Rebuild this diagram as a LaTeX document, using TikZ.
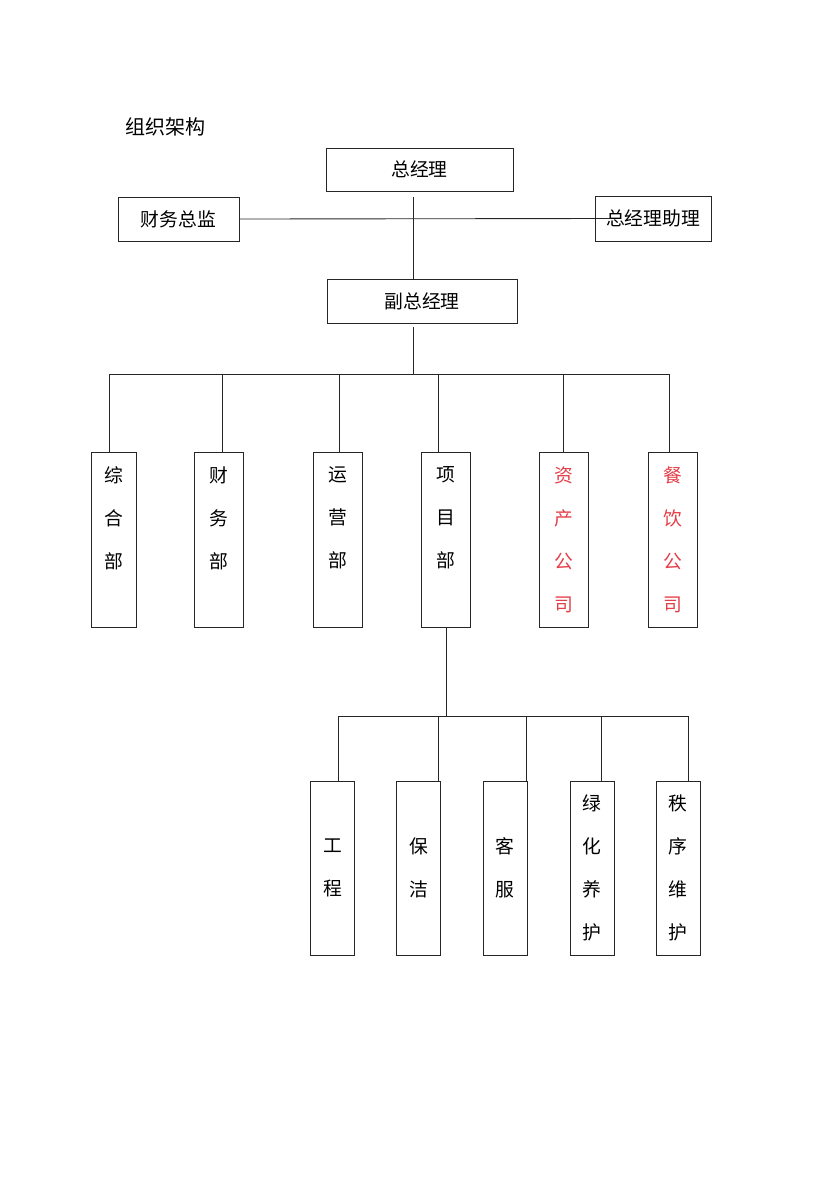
\documentclass[tikz,border=0pt]{standalone}
\usepackage{fontspec}
\usepackage{xcolor}
\usetikzlibrary{calc}
\newfontfamily\cn{Noto Sans CJK SC}
\definecolor{cnred}{RGB}{228,62,72}

\begin{document}
\begin{tikzpicture}[
  x=0.02cm,y=-0.02cm,
  box/.style={draw=black!85,line width=0.5pt,inner sep=0pt,font=\cn\fontsize{10.7}{13}\selectfont},
  col/.style={box,minimum width=0.98cm,minimum height=3.5cm,align=center,
    font=\cn\fontsize{10.7}{24.5}\selectfont},
  ln/.style={draw=black!85,line width=0.5pt}
]
\useasboundingbox (0,0) rectangle (832,1184);

\node[font=\cn\fontsize{11.4}{13}\selectfont,anchor=west] (title) at (119,127) {组织架构};

% top level
\node[box,minimum width=3.74cm,minimum height=0.86cm] (zjl) at (419.5,169.5) {总经理};
\node[box,minimum width=2.42cm,minimum height=0.88cm] (cwzj) at (178.5,219) {财务总监};
\node[box,minimum width=2.32cm,minimum height=0.9cm] (zl) at (653,218.5) {总经理助理};
\node[box,minimum width=3.8cm,minimum height=0.88cm] (fzjl) at (422,301) {副总经理};

\coordinate (top) at (413,197);
\draw[ln] (top) -- (top |- fzjl.north);
\draw[ln] (cwzj.east) -- ($(zl.west)+(16,0)$);

% departments
\node[col,minimum width=0.9cm] (zh) at (113.5,539.5) {综\\合\\部\\\phantom{部}};
\node[col] (cw) at (219,539.5) {财\\务\\部\\\phantom{部}};
\node[col] (yy) at (337.5,539.5) {运\\营\\部\\\phantom{部}};
\node[col] (xm) at (445.5,539.5) {项\\目\\部\\\phantom{部}};
\node[col,text=cnred] (zc) at (564,539.5) {资\\产\\公\\司};
\node[col,text=cnred] (cy) at (672.5,539.5) {餐\\饮\\公\\司};

\coordinate (bus) at (413,374);
\draw[ln] ($(fzjl.south -| top)+(0,4)$) -- (bus);
\draw[ln] (109,374) -- (669,374);
\foreach \n/\x in {zh/109,cw/222,yy/339,xm/438,zc/563,cy/669}
  \draw[ln] (\x,374) -- (\x,374 |- \n.north);

% project teams
\node[col,minimum width=0.88cm,minimum height=3.48cm] (gc) at (332.5,868) {工\\程};
\node[col,minimum width=0.88cm,minimum height=3.48cm] (bj) at (418.5,868) {保\\洁};
\node[col,minimum width=0.88cm,minimum height=3.48cm] (kf) at (505,868) {客\\服};
\node[col,minimum width=0.88cm,minimum height=3.48cm] (lh) at (592,868) {绿\\化\\养\\护};
\node[col,minimum width=0.88cm,minimum height=3.48cm] (zx) at (678,868) {秩\\序\\维\\护};

\coordinate (bus2) at (446,716);
\draw[ln] (bus2 |- xm.south) -- (bus2);
\draw[ln] (338,716) -- (688,716);
\foreach \n/\x in {gc/338,bj/438,kf/526,lh/601,zx/688}
  \draw[ln] (\x,716) -- (\x,716 |- \n.north);
\end{tikzpicture}
\end{document}
